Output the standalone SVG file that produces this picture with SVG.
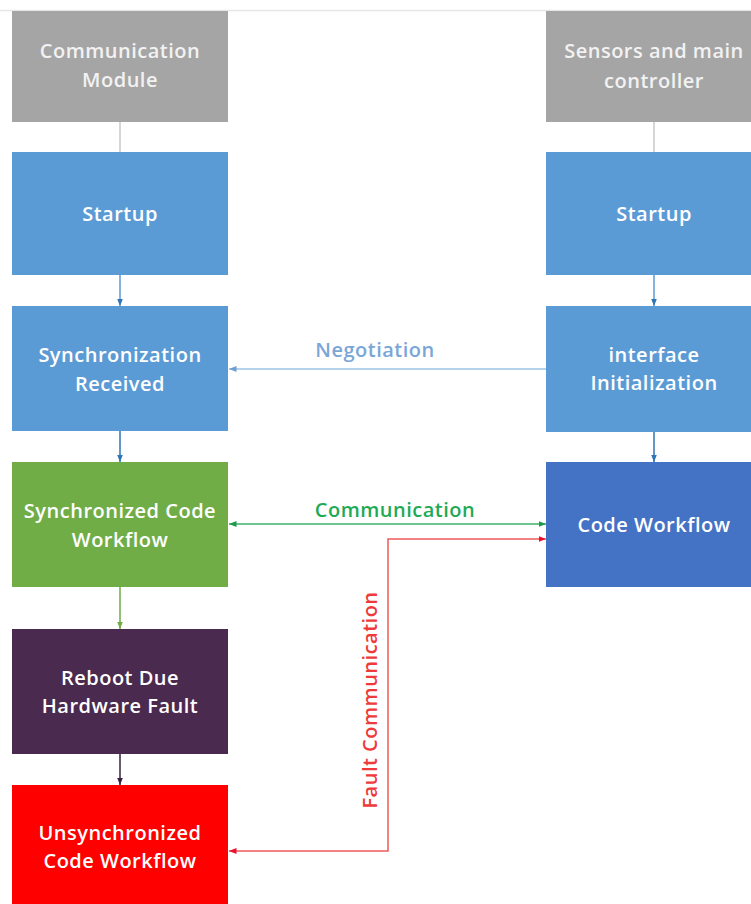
<svg xmlns="http://www.w3.org/2000/svg" width="751" height="904" viewBox="0 0 751 904">
<defs>
<style>
.box text{font-family:"Open Sans","Noto Sans",sans-serif;font-size:20px;letter-spacing:0.5px;fill:#ffffff;text-anchor:middle;font-weight:600}
.gray text{fill:#f2f2f2}
.lbl{font-family:"Open Sans","Noto Sans",sans-serif;font-size:20px;letter-spacing:0.5px;font-weight:600;text-anchor:middle}
.conn{fill:none;stroke-width:1.5}
</style>
<marker id="aBlue" viewBox="0 0 10 10" refX="10" refY="5" markerWidth="5" markerHeight="5" orient="auto-start-reverse"><path d="M0,1 L10,5 L0,9 z" fill="#2e75b6"/></marker>
<marker id="aLBlue" viewBox="0 0 10 10" refX="10" refY="5" markerWidth="5" markerHeight="5" orient="auto-start-reverse"><path d="M0,1 L10,5 L0,9 z" fill="#6f9fd2"/></marker>
<marker id="aGreen" viewBox="0 0 10 10" refX="10" refY="5" markerWidth="5" markerHeight="5" orient="auto-start-reverse"><path d="M0,1 L10,5 L0,9 z" fill="#1f9a4a"/></marker>
<marker id="aOlive" viewBox="0 0 10 10" refX="10" refY="5" markerWidth="5" markerHeight="5" orient="auto-start-reverse"><path d="M0,1 L10,5 L0,9 z" fill="#70ad47"/></marker>
<marker id="aPurple" viewBox="0 0 10 10" refX="10" refY="5" markerWidth="5" markerHeight="5" orient="auto-start-reverse"><path d="M0,1 L10,5 L0,9 z" fill="#3b2040"/></marker>
<marker id="aRed" viewBox="0 0 10 10" refX="10" refY="5" markerWidth="5" markerHeight="5" orient="auto-start-reverse"><path d="M0,1 L10,5 L0,9 z" fill="#e8102a"/></marker>
</defs>
<rect width="751" height="904" fill="#ffffff"/>
<line x1="0" y1="10.5" x2="751" y2="10.5" stroke="#e6e6e6" stroke-width="1.5"/>

<g id="connectors">
<line class="conn" x1="120" y1="122" x2="120" y2="152" stroke="#c8c8c8"/>
<line class="conn" x1="654" y1="122" x2="654" y2="152" stroke="#c8c8c8"/>
<line class="conn" x1="120" y1="275" x2="120" y2="306" stroke="#5b9bd5" marker-end="url(#aBlue)"/>
<line class="conn" x1="654" y1="275" x2="654" y2="306" stroke="#5b9bd5" marker-end="url(#aBlue)"/>
<line class="conn" x1="120" y1="431" x2="120" y2="462" stroke="#2e75b6" marker-end="url(#aBlue)"/>
<line class="conn" x1="654" y1="432" x2="654" y2="462" stroke="#2e75b6" marker-end="url(#aBlue)"/>
<line class="conn" x1="120" y1="587" x2="120" y2="629" stroke="#70ad47" marker-end="url(#aOlive)"/>
<line class="conn" x1="120" y1="754" x2="120" y2="785" stroke="#3b2040" marker-end="url(#aPurple)"/>
<line class="conn" x1="546" y1="369" x2="229" y2="369" stroke="#9dc3e6" marker-end="url(#aLBlue)"/>
<line class="conn" x1="229" y1="524" x2="546" y2="524" stroke="#3cb36b" marker-start="url(#aGreen)" marker-end="url(#aGreen)"/>
<polyline class="conn" points="229,851 388,851 388,539 546,539" stroke="#f05a5a" marker-start="url(#aRed)" marker-end="url(#aRed)"/>
<text class="lbl" x="375" y="357" fill="#7aa6d8">Negotiation</text>
<text class="lbl" x="395" y="517" fill="#1faa55">Communication</text>
<text class="lbl" x="0" y="0" fill="#ee3a3a" transform="translate(377,700) rotate(-90)">Fault Communication</text>
</g>

<g id="comm-module" class="box gray">
<rect x="12" y="11" width="216" height="111" fill="#a5a5a5"/>
<text x="120" y="58">Communication</text>
<text x="120" y="87">Module</text>
</g>
<g id="startup-left" class="box">
<rect x="12" y="152" width="216" height="123" fill="#5b9bd5"/>
<text x="120" y="221">Startup</text>
</g>
<g id="sync-received" class="box">
<rect x="12" y="306" width="216" height="125" fill="#5b9bd5"/>
<text x="120" y="362">Synchronization</text>
<text x="120" y="391">Received</text>
</g>
<g id="sync-code-workflow" class="box">
<rect x="12" y="462" width="216" height="125" fill="#70ad47"/>
<text x="120" y="518">Synchronized Code</text>
<text x="120" y="547">Workflow</text>
</g>
<g id="reboot" class="box">
<rect x="12" y="629" width="216" height="125" fill="#4b2a4f"/>
<text x="120" y="685">Reboot Due</text>
<text x="120" y="713">Hardware Fault</text>
</g>
<g id="unsync-code-workflow" class="box">
<rect x="12" y="785" width="216" height="125" fill="#fe0000"/>
<text x="120" y="840">Unsynchronized</text>
<text x="120" y="868">Code Workflow</text>
</g>

<g id="sensors" class="box gray">
<rect x="546" y="11" width="216" height="111" fill="#a5a5a5"/>
<text x="654" y="58">Sensors and main</text>
<text x="654" y="88">controller</text>
</g>
<g id="startup-right" class="box">
<rect x="546" y="152" width="216" height="123" fill="#5b9bd5"/>
<text x="654" y="221">Startup</text>
</g>
<g id="interface-init" class="box">
<rect x="546" y="306" width="216" height="126" fill="#5b9bd5"/>
<text x="654" y="362">interface</text>
<text x="654" y="390">Initialization</text>
</g>
<g id="code-workflow" class="box">
<rect x="546" y="462" width="216" height="125" fill="#4472c4"/>
<text x="654" y="532">Code Workflow</text>
</g>
</svg>
